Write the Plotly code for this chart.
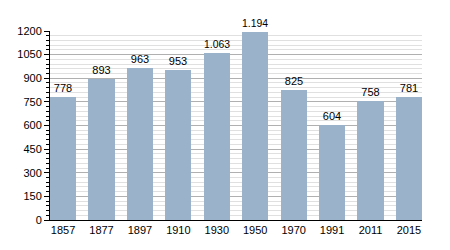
import plotly.graph_objects as go

years = ["1857", "1877", "1897", "1910", "1930", "1950", "1970", "1991", "2011", "2015"]
population = [778, 893, 963, 953, 1063, 1194, 825, 604, 758, 781]
labels = ["778", "893", "963", "953", "1.063", "1.194", "825", "604", "758", "781"]
y_ticks = [0, 150, 300, 450, 600, 750, 900, 1050, 1200]

bw = 0.68
fig = go.Figure(go.Bar(
    x=list(range(len(years))), y=population, width=bw,
    marker=dict(color="#9bb2cb", line=dict(width=0)),
    text=labels, textposition="outside", cliponaxis=False,
    textfont=dict(color="#000000", size=11, family="Liberation Sans"),
))
fig.update_layout(
    width=450, height=250,
    margin=dict(l=50, r=28, t=31, b=30),
    paper_bgcolor="white", plot_bgcolor="white",
    font=dict(family="Liberation Sans", size=11, color="#000000"),
    showlegend=False, bargap=0,
    uniformtext=dict(mode=False),
)
fig.update_xaxes(
    range=[-bw / 2, len(years) - 1 + bw / 2],
    tickmode="array", tickvals=list(range(len(years))), ticktext=years,
    showgrid=False, showline=True, linecolor="#000000", linewidth=1,
    ticks="", tickfont=dict(size=11), zeroline=False,
)
fig.update_yaxes(
    range=[0, 1200], tickmode="array", tickvals=y_ticks,
    showgrid=True, gridcolor="#b0b0b0", gridwidth=1,
    showline=True, linecolor="#000000", linewidth=1,
    ticks="outside", ticklen=5, tickcolor="#000000", tickwidth=1,
    tickfont=dict(size=11), zeroline=False,
    minor=dict(dtick=30, showgrid=True, gridcolor="#e0e0e0", gridwidth=1,
               ticks="outside", ticklen=3, tickcolor="#000000"),
)
fig.write_html("out.html")
